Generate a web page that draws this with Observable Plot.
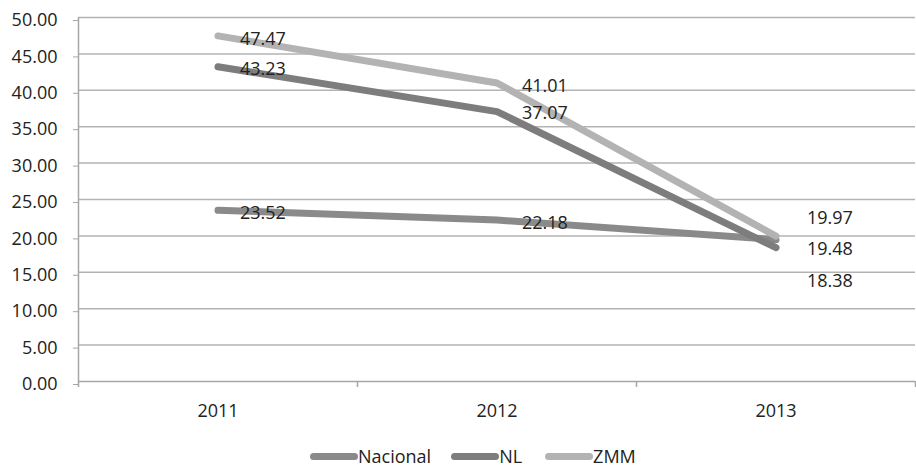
<!DOCTYPE html>
<html>
<head>
<meta charset="utf-8">
<script src="https://cdn.jsdelivr.net/npm/d3@7"></script>
<script src="https://cdn.jsdelivr.net/npm/@observablehq/plot@0.6"></script>
<style>
  body { margin: 0; background: #fff; font-family: "Open Sans", sans-serif; }
  #legend { display: flex; align-items: center; padding-left: 310px; padding-top: 11px; height: 26px; font-size: 18px; color: #222; }
  .sw { display: inline-block; width: 48px; height: 7px; border-radius: 4px; }
  .item { display: flex; align-items: center; }
</style>
</head>
<body>
<div id="chart"></div>
<div id="legend"></div>
<script>
const years = [2011, 2012, 2013];
const seriesNames = ["Nacional", "NL", "ZMM"];
const nacional = [23.52, 22.18, 19.48];
const nl = [43.23, 37.07, 18.38];
const zmm = [47.47, 41.01, 19.97];
const yTicks = [0, 5, 10, 15, 20, 25, 30, 35, 40, 45, 50];
const colors = ["#8a8a8a", "#7d7d7d", "#b3b3b3"];

const valuesBySeries = [nacional, nl, zmm];
const rows = [];
seriesNames.forEach((s, i) => years.forEach((yr, j) => rows.push({series: s, year: yr, value: valuesBySeries[i][j], si: i, yi: j})));

// label placement (style only)
const labelDx = [22, 25, 31];
const labelDy = [[3, 3, 10], [2, 2, 34], [3, 3, -18]];

const bounds = [years[0] - 0.5, ...years.map(y => y + 0.5)];

const textMarks = rows.map(r => Plot.text([r], {
  x: "year", y: "value", text: d => d.value.toFixed(2),
  textAnchor: "start", dx: labelDx[r.yi], dy: labelDy[r.si][r.yi],
  fill: "#222", fontSize: 18
}));

const chart = Plot.plot({
  width: 916,
  height: 432,
  marginLeft: 78,
  marginRight: 1,
  marginTop: 17,
  marginBottom: 51,
  style: {fontFamily: "Open Sans, sans-serif", fontSize: "18px", color: "#222", background: "#fff"},
  x: {type: "linear", domain: [bounds[0], bounds[bounds.length - 1]]},
  y: {domain: [0, 50]},
  color: {domain: seriesNames, range: colors},
  marks: [
    Plot.gridY(yTicks.filter(d => d > 0), {stroke: "#b3b3b3", strokeOpacity: 1, strokeWidth: 1.5}),
    Plot.axisY(yTicks, {tickSize: 5, tickPadding: 16, tickFormat: d3.format(".2f"), stroke: "#a6a6a6", dy: 3, fontSize: 18, fill: "#222", label: null}),
    Plot.axisX(years, {tickSize: 0, tickPadding: 23, tickFormat: d => String(d), fontSize: 18, fill: "#222", label: null}),
    Plot.ruleX([bounds[0]], {stroke: "#a6a6a6", strokeWidth: 1.5}),
    Plot.ruleY([0], {stroke: "#a6a6a6", strokeWidth: 1.5}),
    Plot.ruleX(bounds, {y1: 0, y2: 0, insetBottom: -6, stroke: "#a6a6a6", strokeWidth: 1.5}),
    Plot.line(rows, {x: "year", y: "value", z: "series", stroke: "series", strokeWidth: 7, strokeLinecap: "round", strokeLinejoin: "round"}),
    ...textMarks
  ]
});
document.getElementById("chart").appendChild(chart);

const legend = document.getElementById("legend");
const gaps = [0, 20, 23];
seriesNames.forEach((s, i) => {
  const item = document.createElement("span");
  item.className = "item";
  item.style.marginLeft = gaps[i] + "px";
  const sw = document.createElement("span");
  sw.className = "sw";
  sw.style.background = colors[i];
  const t = document.createElement("span");
  t.textContent = s;
  item.appendChild(sw);
  item.appendChild(t);
  legend.appendChild(item);
});
</script>
</body>
</html>
